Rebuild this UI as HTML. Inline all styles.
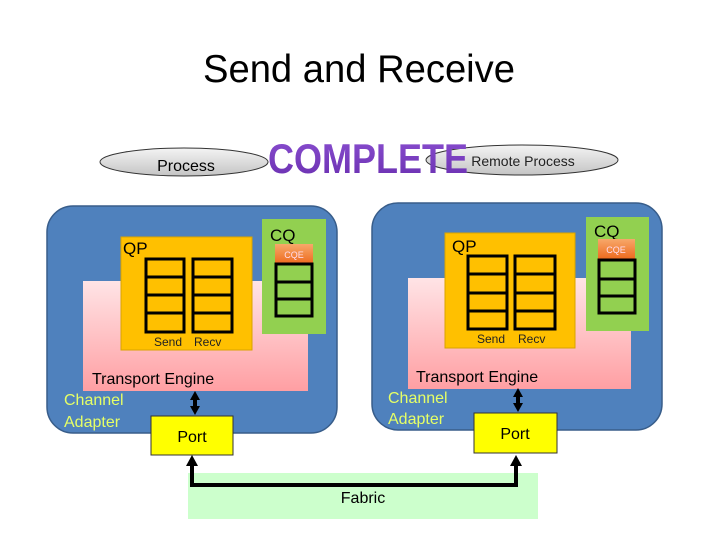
<!DOCTYPE html>
<html><head><meta charset="utf-8"><style>
html,body{margin:0;padding:0;background:#fff;}
svg{display:block;font-family:"Liberation Sans",sans-serif;}
</style></head><body>
<svg width="720" height="540" viewBox="0 0 720 540" xmlns="http://www.w3.org/2000/svg">
<defs>
<linearGradient id="pk" x1="0" y1="0" x2="0" y2="1"><stop offset="0" stop-color="#ffe4e6"/><stop offset="1" stop-color="#ff9fa3"/></linearGradient>
<linearGradient id="el" x1="0" y1="0" x2="0" y2="1"><stop offset="0" stop-color="#f4f4f4"/><stop offset="1" stop-color="#c4c4c4"/></linearGradient>
<linearGradient id="cqe" x1="0" y1="0" x2="0" y2="1"><stop offset="0" stop-color="#f7a86a"/><stop offset="1" stop-color="#ee6a1e"/></linearGradient>
<linearGradient id="pu" x1="0" y1="0" x2="0" y2="1"><stop offset="0" stop-color="#8a4fd0"/><stop offset="1" stop-color="#6a2fb0"/></linearGradient>
</defs>
<text x="359" y="82" font-size="39" text-anchor="middle" fill="#000" textLength="312" lengthAdjust="spacingAndGlyphs">Send and Receive</text>

<ellipse cx="184" cy="162" rx="84" ry="14" fill="url(#el)" stroke="#333" stroke-width="1"/>
<text x="186" y="171" font-size="16" text-anchor="middle">Process</text>
<ellipse cx="522" cy="160" rx="96" ry="15" fill="url(#el)" stroke="#333" stroke-width="1"/>
<text x="523" y="166" font-size="14" text-anchor="middle" fill="#222">Remote Process</text>
<text x="268" y="173" font-size="42" font-weight="bold" fill="url(#pu)" textLength="200" lengthAdjust="spacingAndGlyphs">COMPLETE</text>

<!-- left adapter -->
<rect x="47" y="206" width="290" height="227" rx="26" fill="#4f81bd" stroke="#385d8a" stroke-width="1.5"/>
<rect x="83" y="281" width="225" height="110" fill="url(#pk)"/>
<rect x="121" y="237" width="131" height="113" fill="#ffc000" stroke="#d9a300" stroke-width="1"/>
<text x="123" y="254" font-size="17">QP</text>
<g fill="none" stroke="#000" stroke-width="3">
<rect x="146" y="259" width="38" height="73"/><line x1="146" y1="277" x2="184" y2="277"/><line x1="146" y1="295" x2="184" y2="295"/><line x1="146" y1="313" x2="184" y2="313"/>
<rect x="193" y="259" width="39" height="73"/><line x1="193" y1="277" x2="232" y2="277"/><line x1="193" y1="295" x2="232" y2="295"/><line x1="193" y1="313" x2="232" y2="313"/>
</g>
<text x="154" y="346" font-size="12" fill="#222">Send</text><text x="194" y="346" font-size="12" fill="#222">Recv</text>
<rect x="262" y="219" width="64" height="115" fill="#92d050"/>
<text x="270" y="241" font-size="17">CQ</text>
<rect x="275" y="244" width="38" height="20" fill="url(#cqe)"/>
<text x="294" y="258" font-size="9" fill="#fde" text-anchor="middle">CQE</text>
<g fill="none" stroke="#000" stroke-width="3"><rect x="276" y="264" width="36" height="52"/><line x1="276" y1="282" x2="312" y2="282"/><line x1="276" y1="299" x2="312" y2="299"/></g>
<text x="92" y="384" font-size="16">Transport Engine</text>
<text x="64" y="405" font-size="16" fill="#e6ff66">Channel</text>
<text x="64" y="427" font-size="16" fill="#e6ff66">Adapter</text>
<rect x="151" y="416" width="82" height="39" fill="#ffff00" stroke="#333" stroke-width="1"/>
<text x="192" y="442" font-size="16" text-anchor="middle">Port</text>

<!-- right adapter -->
<rect x="372" y="203" width="290" height="227" rx="26" fill="#4f81bd" stroke="#385d8a" stroke-width="1.5"/>
<rect x="408" y="278" width="223" height="111" fill="url(#pk)"/>
<rect x="445" y="233" width="130" height="115" fill="#ffc000" stroke="#d9a300" stroke-width="1"/>
<text x="452" y="252" font-size="17">QP</text>
<g fill="none" stroke="#000" stroke-width="3">
<rect x="468" y="256" width="39" height="73"/><line x1="468" y1="274" x2="507" y2="274"/><line x1="468" y1="293" x2="507" y2="293"/><line x1="468" y1="311" x2="507" y2="311"/>
<rect x="515" y="256" width="40" height="73"/><line x1="515" y1="274" x2="555" y2="274"/><line x1="515" y1="293" x2="555" y2="293"/><line x1="515" y1="311" x2="555" y2="311"/>
</g>
<text x="477" y="343" font-size="12" fill="#222">Send</text><text x="518" y="343" font-size="12" fill="#222">Recv</text>
<rect x="586" y="217" width="63" height="114" fill="#92d050"/>
<text x="594" y="237" font-size="17">CQ</text>
<rect x="598" y="239" width="37" height="20" fill="url(#cqe)"/>
<text x="616" y="253" font-size="9" fill="#fde" text-anchor="middle">CQE</text>
<g fill="none" stroke="#000" stroke-width="3"><rect x="599" y="260" width="36" height="53"/><line x1="599" y1="279" x2="635" y2="279"/><line x1="599" y1="296" x2="635" y2="296"/></g>
<text x="416" y="382" font-size="16">Transport Engine</text>
<text x="388" y="403" font-size="16" fill="#e6ff66">Channel</text>
<text x="388" y="424" font-size="16" fill="#e6ff66">Adapter</text>
<rect x="474" y="413" width="83" height="40" fill="#ffff00" stroke="#333" stroke-width="1"/>
<text x="515" y="439" font-size="16" text-anchor="middle">Port</text>

<!-- fabric -->
<rect x="188" y="473" width="350" height="46" fill="#ccffcc"/>
<text x="363" y="503" font-size="16" text-anchor="middle">Fabric</text>
<g stroke="#000" stroke-width="4" fill="none"><polyline points="192,462 192,485 516,485 516,462"/>
<line x1="195" y1="397" x2="195" y2="410"/><line x1="518" y1="393" x2="518" y2="407"/></g>
<g fill="#000">
<polygon points="192,455 186,466 198,466"/><polygon points="516,455 510,466 522,466"/>
<polygon points="195,391 190,400 200,400"/><polygon points="195,415 190,406 200,406"/>
<polygon points="518,388 513,397 523,397"/><polygon points="518,412 513,403 523,403"/>
</g>
</svg>
</body></html>
